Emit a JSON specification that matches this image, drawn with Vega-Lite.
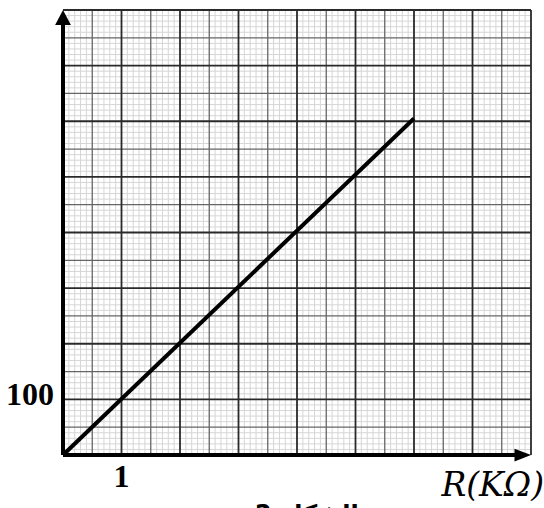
{
  "$schema": "https://vega.github.io/schema/vega-lite/v6.json",
  "autosize": "none",
  "width": 468,
  "height": 445,
  "padding": {"left": 63, "top": 10, "right": 13, "bottom": 53},
  "background": "white",
  "config": {"view": {"stroke": null}},
  "datasets": {
    "vm": [{"x":0.1},{"x":0.2},{"x":0.3},{"x":0.4},{"x":0.6},{"x":0.7},{"x":0.8},{"x":0.9},
           {"x":1.1},{"x":1.2},{"x":1.3},{"x":1.4},{"x":1.6},{"x":1.7},{"x":1.8},{"x":1.9},
           {"x":2.1},{"x":2.2},{"x":2.3},{"x":2.4},{"x":2.6},{"x":2.7},{"x":2.8},{"x":2.9},
           {"x":3.1},{"x":3.2},{"x":3.3},{"x":3.4},{"x":3.6},{"x":3.7},{"x":3.8},{"x":3.9},
           {"x":4.1},{"x":4.2},{"x":4.3},{"x":4.4},{"x":4.6},{"x":4.7},{"x":4.8},{"x":4.9},
           {"x":5.1},{"x":5.2},{"x":5.3},{"x":5.4},{"x":5.6},{"x":5.7},{"x":5.8},{"x":5.9},
           {"x":6.1},{"x":6.2},{"x":6.3},{"x":6.4},{"x":6.6},{"x":6.7},{"x":6.8},{"x":6.9},
           {"x":7.1},{"x":7.2},{"x":7.3},{"x":7.4},{"x":7.6},{"x":7.7},{"x":7.8},{"x":7.9}],
    "vh": [{"x":0.5},{"x":1.5},{"x":2.5},{"x":3.5},{"x":4.5},{"x":5.5},{"x":6.5},{"x":7.5}],
    "vM": [{"x":1},{"x":2},{"x":3},{"x":4},{"x":5},{"x":6},{"x":7},{"x":8}],
    "hm": [{"y":10},{"y":20},{"y":30},{"y":40},{"y":60},{"y":70},{"y":80},{"y":90},
           {"y":110},{"y":120},{"y":130},{"y":140},{"y":160},{"y":170},{"y":180},{"y":190},
           {"y":210},{"y":220},{"y":230},{"y":240},{"y":260},{"y":270},{"y":280},{"y":290},
           {"y":310},{"y":320},{"y":330},{"y":340},{"y":360},{"y":370},{"y":380},{"y":390},
           {"y":410},{"y":420},{"y":430},{"y":440},{"y":460},{"y":470},{"y":480},{"y":490},
           {"y":510},{"y":520},{"y":530},{"y":540},{"y":560},{"y":570},{"y":580},{"y":590},
           {"y":610},{"y":620},{"y":630},{"y":640},{"y":660},{"y":670},{"y":680},{"y":690},
           {"y":710},{"y":720},{"y":730},{"y":740},{"y":760},{"y":770},{"y":780},{"y":790}],
    "hh": [{"y":50},{"y":150},{"y":250},{"y":350},{"y":450},{"y":550},{"y":650},{"y":750}],
    "hM": [{"y":100},{"y":200},{"y":300},{"y":400},{"y":500},{"y":600},{"y":700},{"y":800}]
  },
  "layer": [
    {"data": {"name": "vm"}, "mark": {"type": "rule", "color": "#d6d6d6", "strokeWidth": 1},
     "encoding": {"x": {"field": "x", "type": "quantitative", "scale": {"domain": [0, 8], "nice": false}, "axis": null}}},
    {"data": {"name": "hm"}, "mark": {"type": "rule", "color": "#d6d6d6", "strokeWidth": 1},
     "encoding": {"y": {"field": "y", "type": "quantitative", "scale": {"domain": [0, 800], "nice": false}, "axis": null}}},
    {"data": {"name": "vh"}, "mark": {"type": "rule", "color": "#666666", "strokeWidth": 1.3},
     "encoding": {"x": {"field": "x", "type": "quantitative"}}},
    {"data": {"name": "hh"}, "mark": {"type": "rule", "color": "#666666", "strokeWidth": 1.3},
     "encoding": {"y": {"field": "y", "type": "quantitative"}}},
    {"data": {"name": "vM"}, "mark": {"type": "rule", "color": "#2a2a2a", "strokeWidth": 1.8},
     "encoding": {"x": {"field": "x", "type": "quantitative"}}},
    {"data": {"name": "hM"}, "mark": {"type": "rule", "color": "#2a2a2a", "strokeWidth": 1.8},
     "encoding": {"y": {"field": "y", "type": "quantitative"}}},
    {"data": {"values": [{"x": 0, "y": 0, "y2": 775}]},
     "mark": {"type": "rule", "color": "black", "strokeWidth": 4},
     "encoding": {"x": {"field": "x", "type": "quantitative"}, "y": {"field": "y", "type": "quantitative"}, "y2": {"field": "y2"}}},
    {"data": {"values": [{"x": 0, "x2": 7.75, "y": 0}]},
     "mark": {"type": "rule", "color": "black", "strokeWidth": 4},
     "encoding": {"x": {"field": "x", "type": "quantitative"}, "x2": {"field": "x2"}, "y": {"field": "y", "type": "quantitative"}}},
    {"data": {"values": [{"x": 0, "y": 800}]},
     "mark": {"type": "point", "shape": "M0,0L-1.05,2L1.05,2Z", "filled": true, "color": "black", "size": 225, "opacity": 1},
     "encoding": {"x": {"field": "x", "type": "quantitative"}, "y": {"field": "y", "type": "quantitative"}}},
    {"data": {"values": [{"x": 8, "y": 0}]},
     "mark": {"type": "point", "shape": "M0,0L-2.2,-0.85L-2.2,0.85Z", "filled": true, "color": "black", "size": 225, "opacity": 1},
     "encoding": {"x": {"field": "x", "type": "quantitative"}, "y": {"field": "y", "type": "quantitative"}}},
    {"data": {"values": [{"r": 0, "u": 0}, {"r": 6, "u": 605}]},
     "mark": {"type": "line", "color": "black", "strokeWidth": 4},
     "encoding": {"x": {"field": "r", "type": "quantitative"}, "y": {"field": "u", "type": "quantitative"}}},
    {"data": {"values": [{"x": 0, "y": 100, "t": "100"}]},
     "mark": {"type": "text", "font": "Liberation Serif", "fontWeight": "bold", "fontSize": 32, "align": "right", "baseline": "middle", "dx": -9, "dy": -4},
     "encoding": {"x": {"field": "x", "type": "quantitative"}, "y": {"field": "y", "type": "quantitative"}, "text": {"field": "t"}}},
    {"data": {"values": [{"x": 1, "y": 0, "t": "1"}]},
     "mark": {"type": "text", "font": "Liberation Serif", "fontWeight": "bold", "fontSize": 32, "align": "center", "baseline": "middle", "dy": 22},
     "encoding": {"x": {"field": "x", "type": "quantitative"}, "y": {"field": "y", "type": "quantitative"}, "text": {"field": "t"}}},
    {"data": {"values": [{"x": 8, "y": 0, "t": "R(KΩ)"}]},
     "mark": {"type": "text", "font": "DejaVu Serif", "fontStyle": "italic", "fontSize": 33, "align": "right", "baseline": "alphabetic", "dx": 13, "dy": 41},
     "encoding": {"x": {"field": "x", "type": "quantitative"}, "y": {"field": "y", "type": "quantitative"}, "text": {"field": "t"}}},
    {"data": {"values": [{"x": 4.17, "y": 0, "t": "الشكل-2"}]},
     "mark": {"type": "text", "font": "DejaVu Sans", "fontWeight": "bold", "fontSize": 24, "align": "center", "baseline": "alphabetic", "dy": 67},
     "encoding": {"x": {"field": "x", "type": "quantitative"}, "y": {"field": "y", "type": "quantitative"}, "text": {"field": "t"}}}
  ]
}
